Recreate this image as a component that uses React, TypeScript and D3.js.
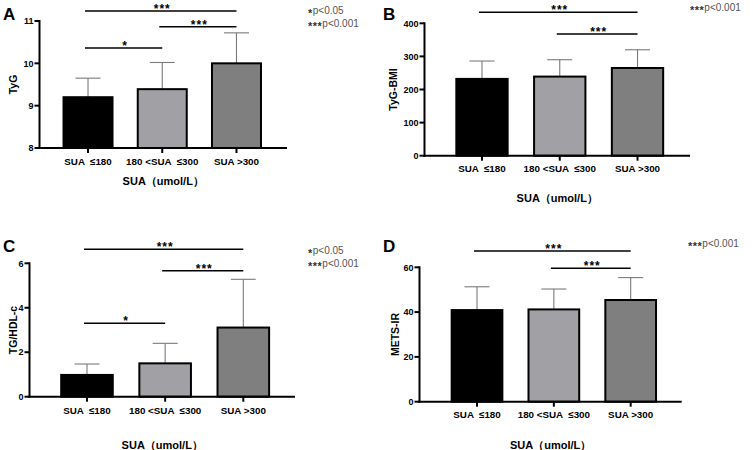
import React from "react";
import * as d3 from "d3";

const categories = ["SUA  ≤180", "180 <SUA  ≤300", "SUA >300"];
const barFills = ["#000000", "#a1a1a5", "#7f7f7f"];

const tygMean = [9.2, 9.39, 10.0];
const tygSD = [0.45, 0.63, 0.72];
const tygbmiMean = [232, 239, 265];
const tygbmiSD = [54, 51, 55];
const tghdlMean = [0.98, 1.5, 3.11];
const tghdlSD = [0.49, 0.9, 2.17];
const metsMean = [40.9, 41.2, 45.4];
const metsSD = [10.4, 9.1, 10.0];

const tygTicks = [8, 9, 10, 11];
const tygbmiTicks = [0, 100, 200, 300, 400];
const tghdlTicks = [0, 2, 4, 6];
const metsTicks = [0, 20, 40, 60];

// significance comparisons: [groupA, groupB, label]
const tygSig: [number, number, string][] = [[0, 2, "***"], [1, 2, "***"], [0, 1, "*"]];
const tygbmiSig: [number, number, string][] = [[0, 2, "***"], [1, 2, "***"]];
const tghdlSig: [number, number, string][] = [[0, 2, "***"], [1, 2, "***"], [0, 1, "*"]];
const metsSig: [number, number, string][] = [[0, 2, "***"], [1, 2, "***"]];

const legendBoth = [["*", "p<0.05"], ["***", "p<0.001"]];
const legendOne = [["***", "p<0.001"]];

const FONT = "Arial, 'Liberation Sans', Helvetica, sans-serif";

type PanelProps = {
  letter: string;
  yLabel: string;
  mean: number[];
  sd: number[];
  ticks: number[];
  sig: [number, number, string][];
  legend: string[][];
  layout: {
    axisX: number; axisRight: number; yBottom: number; yTop: number;
    bandLeft: number; bandRight: number; sigY: number[];
    letterX: number; letterY: number; yLabelX: number;
    tickLabelY: number; titleY: number; legendX: number; legendY: number;
  };
};

function Panel({ letter, yLabel, mean, sd, ticks, sig, legend, layout: L }: PanelProps) {
  const y = d3.scaleLinear().domain([ticks[0], ticks[ticks.length - 1]]).range([L.yBottom, L.yTop]);
  const x = d3.scaleBand<string>().domain(categories).range([L.bandLeft, L.bandRight]).paddingInner(0.34).paddingOuter(0.17);
  const cx = (i: number) => (x(categories[i]) as number) + x.bandwidth() / 2;
  const capW = 12.5;
  const midX = (L.axisX + L.axisRight) / 2;
  return (
    <g fontFamily={FONT}>
      <text x={L.letterX} y={L.letterY} fontSize={17} fontWeight="bold" fill="#000">{letter}</text>
      {mean.map((m, i) => (
        <g key={"e" + i} stroke="#7a7a7a" strokeWidth={1.1}>
          <line x1={cx(i)} x2={cx(i)} y1={y(m)} y2={y(m + sd[i])} />
          <line x1={cx(i) - capW} x2={cx(i) + capW} y1={y(m + sd[i])} y2={y(m + sd[i])} />
        </g>
      ))}
      {mean.map((m, i) => (
        <rect key={"b" + i} x={x(categories[i])} width={x.bandwidth()} y={y(m)} height={y(ticks[0]) - y(m)}
          fill={barFills[i]} stroke="#000" strokeWidth={2} />
      ))}
      <line x1={L.axisX} x2={L.axisX} y1={L.yTop - 1} y2={L.yBottom + 1} stroke="#000" strokeWidth={2} />
      {ticks.map((t) => (
        <g key={"t" + t}>
          <line x1={L.axisX - 5} x2={L.axisX} y1={y(t)} y2={y(t)} stroke="#000" strokeWidth={2} />
          <text x={L.axisX - 6} y={y(t) + 3.2} fontSize={9} fontWeight="bold" textAnchor="end" fill="#000">{t}</text>
        </g>
      ))}
      <line x1={L.axisX - 1} x2={L.axisRight} y1={L.yBottom} y2={L.yBottom} stroke="#000" strokeWidth={2} />
      {categories.map((c, i) => (
        <g key={"c" + i}>
          <line x1={cx(i)} x2={cx(i)} y1={L.yBottom} y2={L.yBottom + 5} stroke="#000" strokeWidth={2} />
          <text x={cx(i)} y={L.tickLabelY} fontSize={9.8} fontWeight="bold" textAnchor="middle" fill="#000" style={{ whiteSpace: "pre" }}>{c}</text>
        </g>
      ))}
      <text x={midX} y={L.titleY} fontSize={11} fontWeight="bold" textAnchor="middle" fill="#000">SUA（umol/L）</text>
      <text transform={`translate(${L.yLabelX},${(L.yTop + L.yBottom) / 2}) rotate(-90)`} fontSize={10.5} fontWeight="bold" textAnchor="middle" fill="#000">{yLabel}</text>
      {sig.map(([a, b, s], k) => (
        <g key={"s" + k}>
          <line x1={cx(a) - 3} x2={cx(b)} y1={L.sigY[k]} y2={L.sigY[k]} stroke="#000" strokeWidth={1.6} />
          <text x={(cx(a) + cx(b)) / 2} y={L.sigY[k] + 2} fontSize={12} fontWeight="bold" textAnchor="middle" fill="#000" letterSpacing={1}>{s}</text>
        </g>
      ))}
      {legend.map(([s, p], k) => (
        <text key={"l" + k} x={L.legendX} y={L.legendY + k * 12.5} fontSize={10} fill="#555">
          <tspan fontSize={11} fontWeight="bold" fill="#333" dy={3} letterSpacing={0.5}>{s}</tspan>
          <tspan dy={-3}>{p}</tspan>
        </text>
      ))}
    </g>
  );
}

export default function App() {
  return (
    <svg width={753} height={450} style={{ position: "absolute", left: 0, top: 0, background: "#fff" }}>
      <rect width={753} height={450} fill="#fff" />
      <Panel letter="A" yLabel="TyG" mean={tygMean} sd={tygSD} ticks={tygTicks} sig={tygSig} legend={legendBoth}
        layout={{ axisX: 39.5, axisRight: 287, yBottom: 148, yTop: 21, bandLeft: 50.9, bandRight: 273.6,
          sigY: [11, 26.7, 48], letterX: 3, letterY: 20, yLabelX: 17, tickLabelY: 165, titleY: 185, legendX: 308, legendY: 14 }} />
      <Panel letter="B" yLabel="TyG-BMI" mean={tygbmiMean} sd={tygbmiSD} ticks={tygbmiTicks} sig={tygbmiSig} legend={legendOne}
        layout={{ axisX: 424.5, axisRight: 690, yBottom: 155.7, yTop: 23.3, bandLeft: 443.1, bandRight: 676.4,
          sigY: [12.3, 34], letterX: 383, letterY: 20, yLabelX: 397, tickLabelY: 172, titleY: 202, legendX: 690, legendY: 11 }} />
      <Panel letter="C" yLabel="TG/HDL-c" mean={tghdlMean} sd={tghdlSD} ticks={tghdlTicks} sig={tghdlSig} legend={legendBoth}
        layout={{ axisX: 29.5, axisRight: 295, yBottom: 396.7, yTop: 263.3, bandLeft: 47.9, bandRight: 282.4,
          sigY: [249.3, 270.7, 323.3], letterX: 3, letterY: 252, yLabelX: 17, tickLabelY: 414, titleY: 449, legendX: 308, legendY: 254 }} />
      <Panel letter="D" yLabel="METS-IR" mean={metsMean} sd={metsSD} ticks={metsTicks} sig={metsSig} legend={legendOne}
        layout={{ axisX: 419.5, axisRight: 681.7, yBottom: 401.7, yTop: 267.3, bandLeft: 438.6, bandRight: 669.1,
          sigY: [251, 268.3], letterX: 383, letterY: 252, yLabelX: 399, tickLabelY: 418, titleY: 449, legendX: 688, legendY: 247 }} />
    </svg>
  );
}
